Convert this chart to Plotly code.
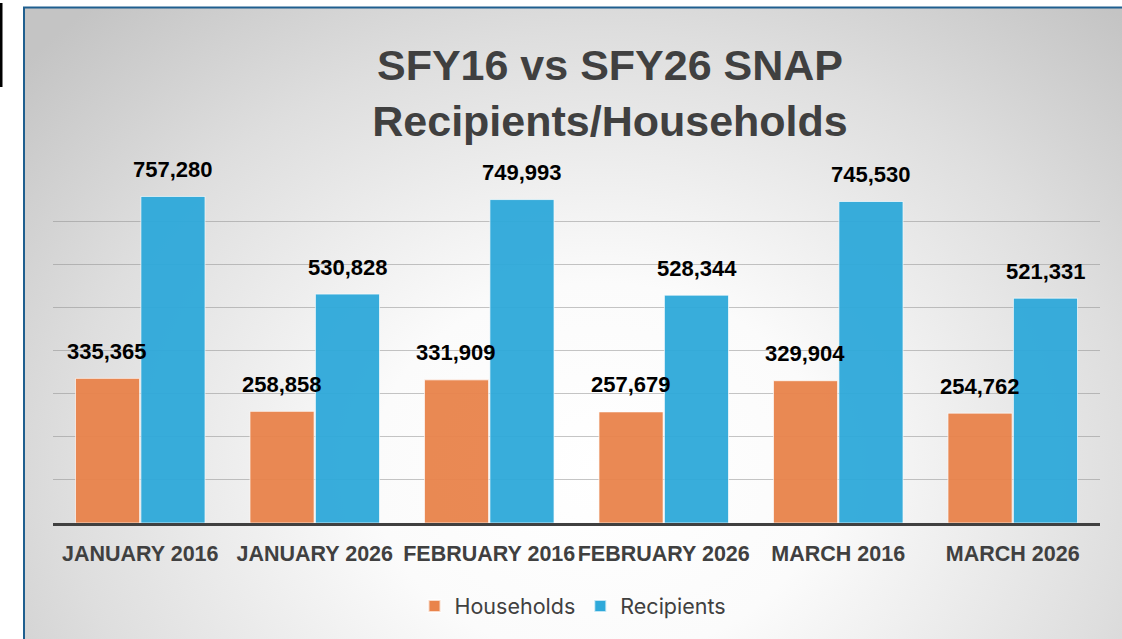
import base64
import plotly.graph_objects as go

categories = ["JANUARY 2016", "JANUARY 2026", "FEBRUARY 2016",
              "FEBRUARY 2026", "MARCH 2016", "MARCH 2026"]
households = [335365, 258858, 331909, 257679, 329904, 254762]
recipients = [757280, 530828, 749993, 528344, 745530, 521331]

W, H = 1122, 639
ML, MR, MT, MB = 53, 22, 178, 116
PW, PH = W - ML - MR, H - MT - MB


def px_x(x):
    return (x - ML) / PW


def px_y(y):
    return (H - MB - y) / PH


ORANGE = "#E9834B"
BLUE = "#2EA9DA"
TXT = "#404040"

fig = go.Figure()
fig.add_trace(go.Bar(name="Households", x=categories, y=households,
                     marker=dict(color=ORANGE, opacity=0.95,
                                 line=dict(color="rgba(255,255,255,0.7)", width=1))))
fig.add_trace(go.Bar(name="Recipients", x=categories, y=recipients,
                     marker=dict(color=BLUE, opacity=0.95,
                                 line=dict(color="rgba(255,255,255,0.7)", width=1))))

annotations = []
for cat, hv, rv in zip(categories, households, recipients):
    for v, shift in ((hv, -33), (rv, 33)):
        annotations.append(dict(
            x=cat, y=v, xref="x", yref="y", text=f"{v:,}", showarrow=False,
            xshift=shift, yshift=27, yanchor="middle", xanchor="center",
            font=dict(family="Liberation Sans, Arial", size=22, color="#000000", weight="bold")))

# background gradient panel (inside frame)
fx0, fy0 = 24, 8
gw, gh = W - fx0 + 10, H - fy0 + 10
cx, cy = 600 - fx0, 470 - fy0
svg = f'''<svg xmlns="http://www.w3.org/2000/svg" width="{gw}" height="{gh}" viewBox="0 0 {gw} {gh}" preserveAspectRatio="none">
<defs><radialGradient id="g" gradientUnits="userSpaceOnUse" cx="{cx}" cy="{cy}" r="760"
 gradientTransform="translate({cx} {cy}) scale(1 0.82) translate({-cx} {-cy})">
<stop offset="0" stop-color="#ffffff"/><stop offset="0.3" stop-color="#fbfbfb"/>
<stop offset="0.7" stop-color="#dedede"/><stop offset="1" stop-color="#c4c4c4"/></radialGradient></defs>
<rect x="0" y="0" width="{gw}" height="{gh}" fill="url(#g)"/></svg>'''
src = "data:image/svg+xml;base64," + base64.b64encode(svg.encode()).decode()

fig.update_layout(
    width=W, height=H,
    margin=dict(l=ML, r=MR, t=MT, b=MB, pad=0),
    paper_bgcolor="#ffffff",
    plot_bgcolor="rgba(0,0,0,0)",
    barmode="group", bargap=0.25, bargroupgap=0.02,
    hovermode=False,
    title=dict(text="SFY16 vs SFY26 SNAP<br>Recipients/Households",
               x=610 / W, xref="container", xanchor="center",
               y=1 - 80 / H, yref="container", yanchor="middle",
               font=dict(family="Liberation Sans, Arial", size=43, color=TXT, weight="bold")),
    xaxis=dict(showline=True, linecolor="#404040", linewidth=3, ticks="",
               tickangle=0, ticklabelstandoff=9,
               tickfont=dict(family="Liberation Sans, Arial", size=21.5, color=TXT, weight="bold"),
               showgrid=False, fixedrange=True),
    yaxis=dict(range=[0, 800000], dtick=100000, showticklabels=False,
               showgrid=True, gridcolor="rgba(140,140,140,0.5)", gridwidth=1,
               zeroline=False, showline=False, ticks="", fixedrange=True),
    legend=dict(orientation="h", x=px_x(573), xanchor="center",
                y=px_y(606), yanchor="middle", bgcolor="rgba(0,0,0,0)",
                font=dict(family="Inter, Liberation Sans, Arial", size=21.5, color=TXT),
                itemsizing="constant"),
    annotations=annotations,
    images=[dict(source=src, xref="paper", yref="paper",
                 x=px_x(fx0), y=px_y(fy0), sizex=gw / PW, sizey=gh / PH,
                 xanchor="left", yanchor="top", sizing="stretch", layer="below")],
    shapes=[
        dict(type="rect", xref="paper", yref="paper",
             x0=px_x(24), x1=px_x(W + 20), y0=px_y(7.5), y1=px_y(H + 20),
             line=dict(color="#1F5F8F", width=2), fillcolor="rgba(0,0,0,0)"),
        dict(type="rect", xref="paper", yref="paper",
             x0=px_x(0), x1=px_x(2.5), y0=px_y(3), y1=px_y(87),
             line=dict(width=0), fillcolor="#000000"),
    ],
)

fig.write_html(
    "out.html",
    config={"displayModeBar": False},
    post_script="document.body.style.margin='0';document.body.style.overflow='hidden';",
)
